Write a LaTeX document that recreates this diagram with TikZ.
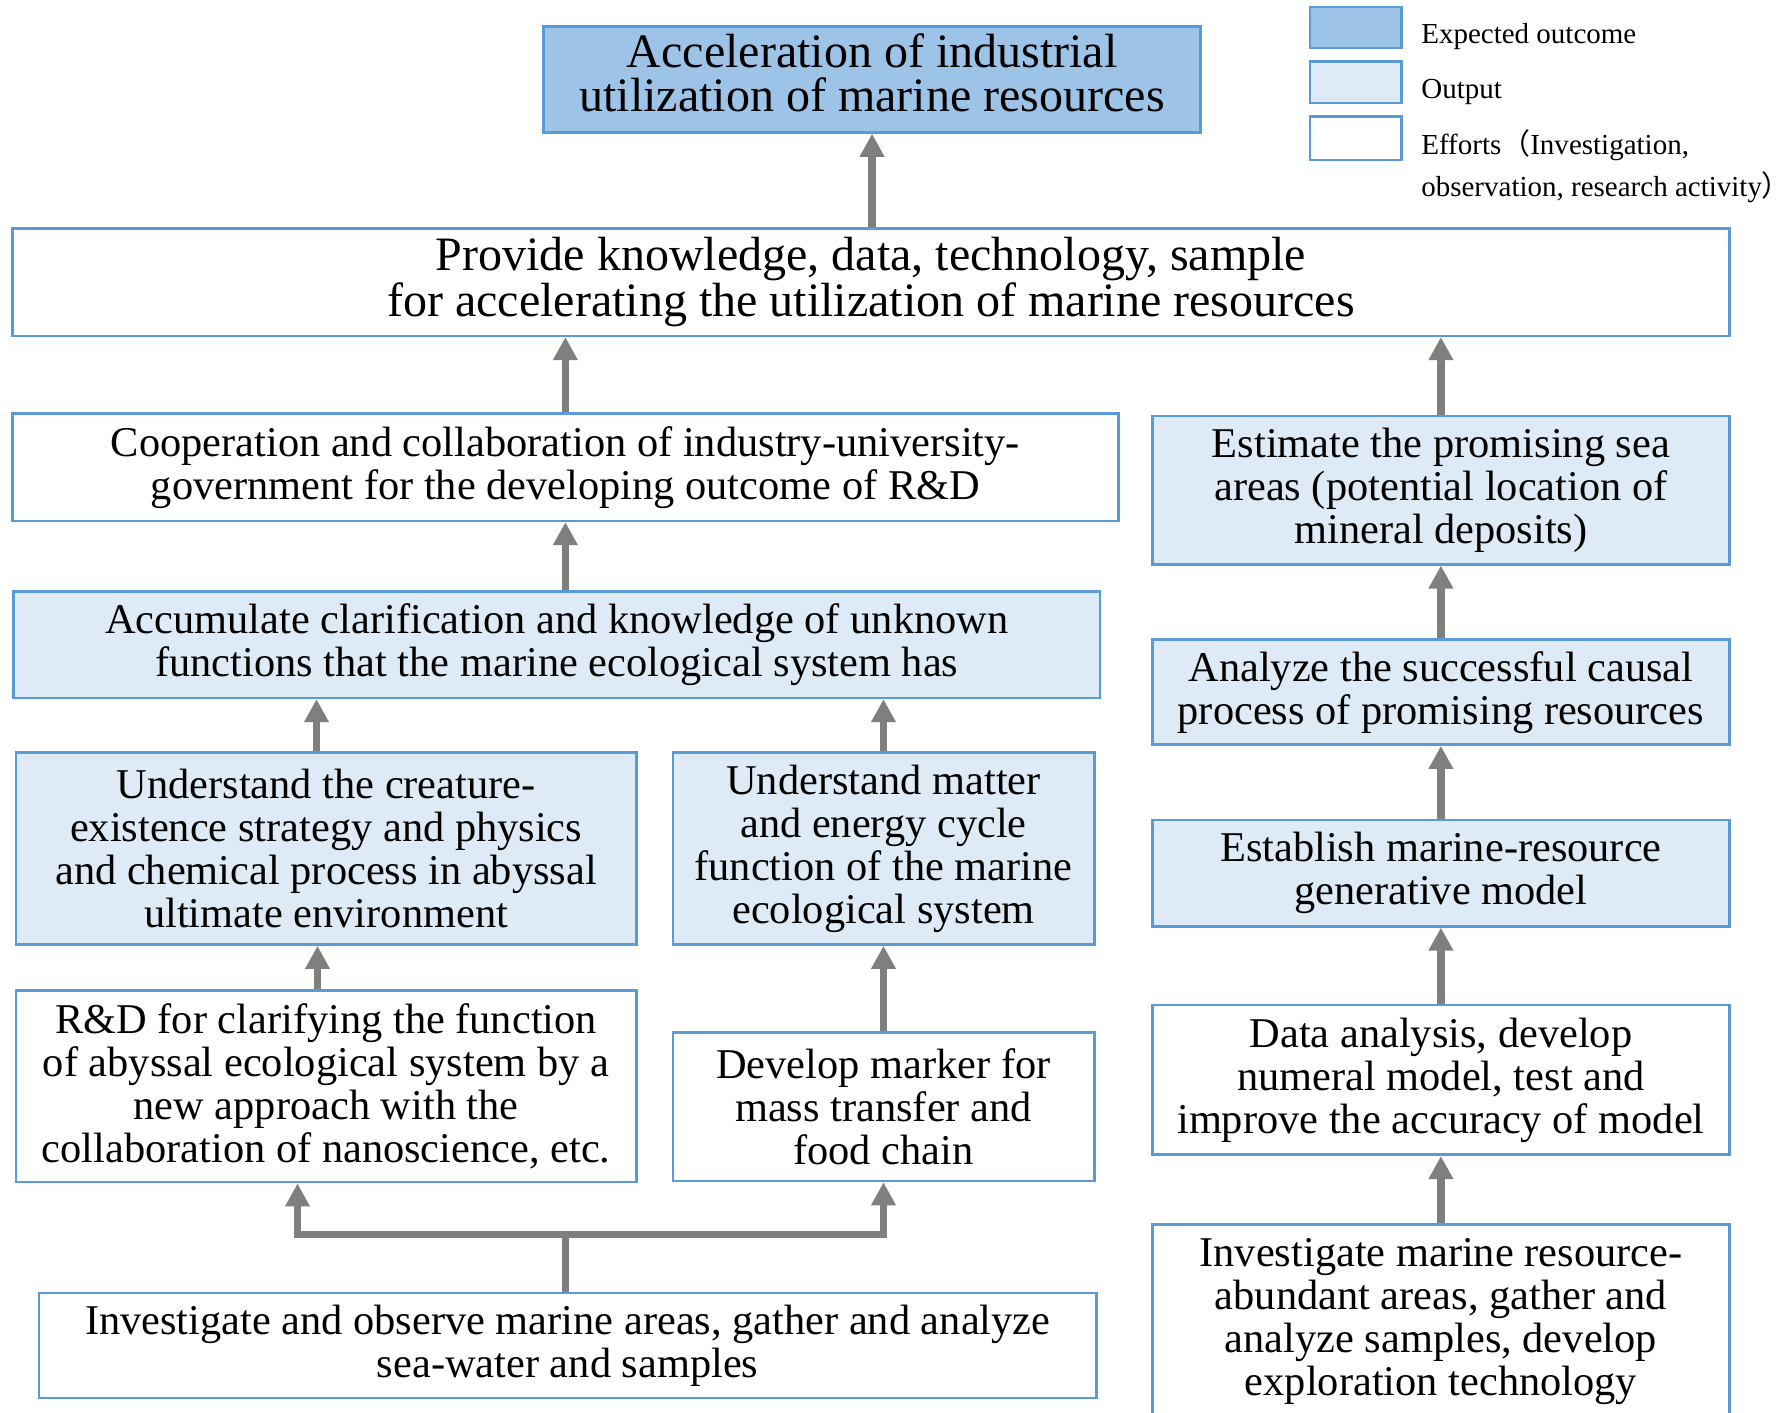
\documentclass[tikz,border=0pt]{standalone}
\usepackage{fontspec}
\setmainfont{Liberation Serif}
\newfontfamily\cjk{Noto Sans CJK SC}
\usepackage[dvipsnames,svgnames]{xcolor}
\usetikzlibrary{positioning}
\usetikzlibrary{arrows.meta}
\definecolor{boxline}{HTML}{5B9BD5}
\definecolor{outcomefill}{HTML}{9DC3E6}
\definecolor{outputfill}{HTML}{DEEBF7}
\definecolor{arrgray}{HTML}{7F7F7F}
\tikzset{
  effortbox/.style={draw=boxline, line width=1.3pt, fill=white, align=center, inner sep=0pt,
    font=\fontsize{21.2}{21.5}\selectfont},
  outbox/.style={effortbox, fill=outputfill},
  goalbox/.style={effortbox, fill=outcomefill, font=\fontsize{24}{21.7}\selectfont},
  uparrow/.style={draw=arrgray, line width=3.6pt, -{Triangle[width=11.7pt,length=11.5pt]}},
  legtext/.style={inner sep=0pt, anchor=base west, font=\fontsize{14.5}{20.8}\selectfont},
}

\begin{document}
\begin{tikzpicture}[x=0.5711pt,y=-0.5711pt] % 坐标按像素取, y 轴向下
            \useasboundingbox (0,0) rectangle (1568,1237);
            % 图例
            \node[goalbox, minimum width=45.7pt, minimum height=20.6pt] (legA) at (1187,24) {};
            \node[outbox, minimum width=45.7pt, minimum height=20.6pt] (legB) at (1187,72) {};
            \node[effortbox, minimum width=45.7pt, minimum height=21.7pt] (legC) at (1187,121) {};
            \node[legtext] (legAtext) at (1244,38) {Expected outcome};
            \node[legtext] (legBtext) at (1244,86) {Output};
            \node[legtext, align=left] (legCtext) at (1244,172) {Efforts{\cjk （}Investigation,\\observation, research activity{\cjk ）}};
            % 上部
            \node[goalbox, text depth=6.8pt, minimum width=328.4pt, minimum height=53.1pt] (goal) at (763.5,69.5) {Acceleration of industrial\\utilization of marine resources};
            \node[effortbox, font=\fontsize{24}{21.7}\selectfont, minimum width=858.4pt, minimum height=53.7pt] (provide) at (762.5,247) {Provide knowledge, data, technology, sample\\for accelerating the utilization of marine resources};
            % 左列
            \node[effortbox, minimum width=552.8pt, minimum height=53.7pt] (coop) at (495,409) {Cooperation and collaboration of industry-university-\\government for the developing outcome of R\&D};
            \node[outbox, minimum width=543.1pt, minimum height=53.1pt] (accum) at (487.5,564.5) {Accumulate clarification and knowledge of unknown\\functions that the marine ecological system has};
            \node[outbox, minimum width=310.1pt, minimum height=95.9pt] (creature) at (285.5,743) {Understand the creature-\\existence strategy and physics\\and chemical process in abyssal\\ultimate environment};
            \node[outbox, minimum width=210.7pt, minimum height=95.9pt] (matter) at (773.5,743) {Understand matter\\and energy cycle\\function of the marine\\ecological system};
            \node[effortbox, minimum width=310.1pt, minimum height=95.9pt] (rnd) at (285.5,951) {R\&D for clarifying the function\\of abyssal ecological system by a\\new approach with the\\collaboration of nanoscience, etc.};
            \node[effortbox, minimum width=210.7pt, minimum height=74.2pt] (marker) at (773.5,969) {Develop marker for\\mass transfer and\\food chain};
            \node[effortbox, minimum width=528.8pt, minimum height=52.5pt] (observe) at (497,1178) {Investigate and observe marine areas, gather and analyze\\sea-water and samples};
            % 右列
            \node[outbox, minimum width=288.4pt, minimum height=74.2pt] (estimate) at (1261.5,429) {Estimate the promising sea\\areas (potential location of\\mineral deposits)};
            \node[outbox, minimum width=288.4pt, minimum height=52.5pt] (analyze) at (1261.5,606) {Analyze the successful causal\\process of promising resources};
            \node[outbox, minimum width=288.4pt, minimum height=53.1pt] (establish) at (1261.5,764.5) {Establish marine-resource\\generative model};
            \node[effortbox, minimum width=288.4pt, minimum height=74.8pt] (data) at (1261.5,945.5) {Data analysis, develop\\numeral model, test and\\improve the accuracy of model};
            \node[effortbox, minimum width=288.4pt, minimum height=97.1pt] (invest) at (1261.5,1157) {Investigate marine resource-\\abundant areas, gather and\\analyze samples, develop\\exploration technology};
            % 箭头
            \draw[uparrow] (goal.south |- provide.north) -- (goal.south);
            \draw[uparrow] (coop.north) -- (coop.north |- provide.south);
            \draw[uparrow] (estimate.north) -- (estimate.north |- provide.south);
            \draw[uparrow] (coop.south |- accum.north) -- (coop.south);
            \draw[uparrow] ([xshift=-4.8pt]creature.north) -- ([xshift=-4.8pt]creature.north |- accum.south);
            \draw[uparrow] (matter.north) -- (matter.north |- accum.south);
            \draw[uparrow] ([xshift=-4.3pt]rnd.north) -- ([xshift=-4.3pt]rnd.north |- creature.south);
            \draw[uparrow] (marker.north) -- (matter.south);
            \coordinate (split) at ([xshift=-1.1pt,yshift=28.6pt]observe.north);
            \draw[uparrow] ([xshift=-1.1pt]observe.north) -- (split) -| ([xshift=-14.3pt]rnd.south);
            \draw[uparrow] (split) -| (marker.south);
            \draw[uparrow] (analyze.north) -- (estimate.south);
            \draw[uparrow] (establish.north) -- (analyze.south);
            \draw[uparrow] (data.north) -- (establish.south);
            \draw[uparrow] (invest.north) -- (data.south);
        \end{tikzpicture}
\end{document}
